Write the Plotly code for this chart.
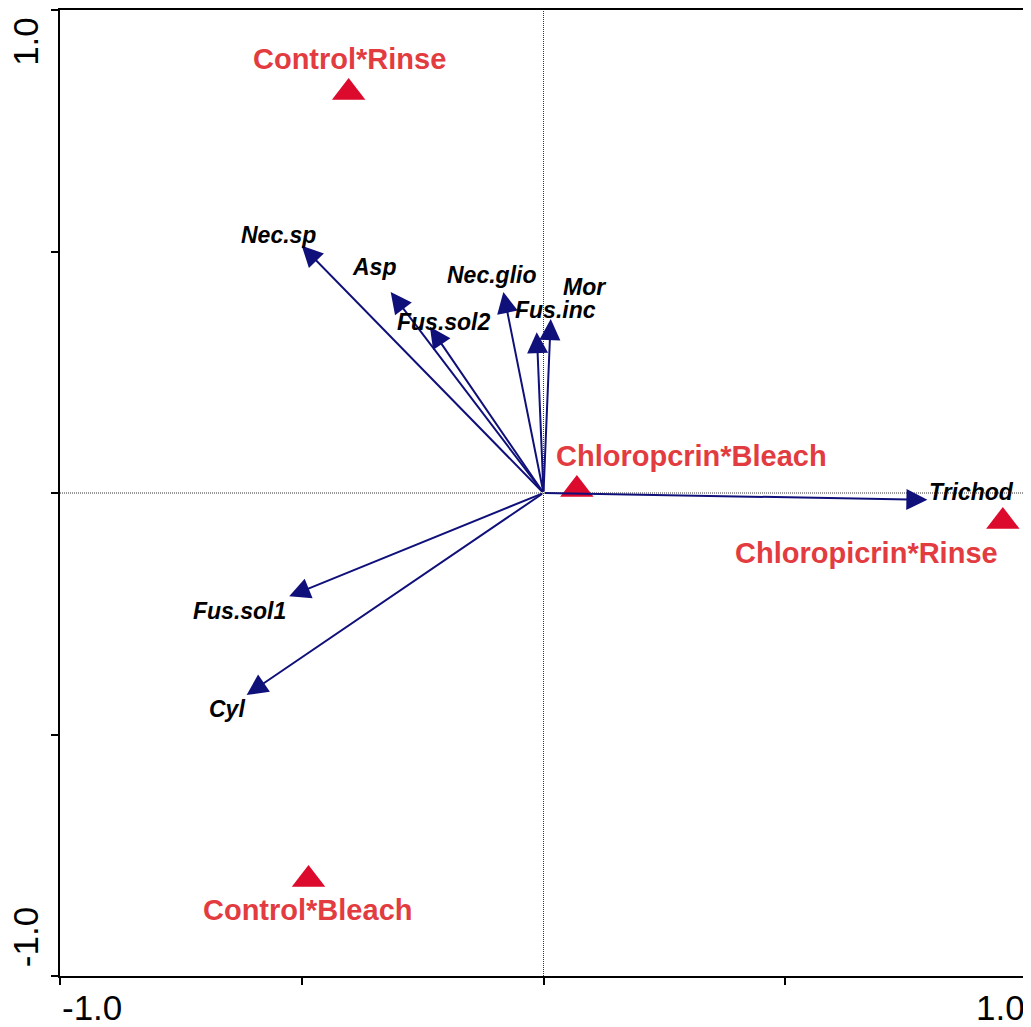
import plotly.graph_objects as go

# Species vectors (arrow tips)
species = ["Nec.sp", "Asp", "Fus.sol2", "Nec.glio", "Fus.inc", "Mor", "Trichod", "Fus.sol1", "Cyl"]
sp_x = [-0.500, -0.316, -0.235, -0.083, -0.014, 0.015, 0.794, -0.526, -0.614]
sp_y = [0.512, 0.416, 0.344, 0.416, 0.333, 0.360, -0.014, -0.214, -0.418]
# species label positions
sp_lx = [-0.549, -0.351, -0.205, -0.108, 0.0238, 0.0838, 0.886, -0.628, -0.654]
sp_ly = [0.534, 0.467, 0.354, 0.452, 0.378, 0.426, 0.003, -0.245, -0.448]

# Treatment (sample) points
treat = ["Control*Rinse", "Chloropcrin*Bleach", "Chloropicrin*Rinse", "Control*Bleach"]
tr_x = [-0.403, 0.069, 0.950, -0.486]
tr_y = [0.829, 0.007, -0.059, -0.800]
tr_lx = [-0.401, 0.306, 0.669, -0.488]
tr_ly = [0.898, 0.077, -0.125, -0.864]

tick_vals = [-1.0, -0.5, 0.0, 0.5, 1.0]

ARROW = "#10107A"
RED_TXT = "#E23B40"
RED_MK = "#DC0A2D"
FONT = "Liberation Sans, Arial, sans-serif"

fig = go.Figure()

fig.add_trace(go.Scatter(
    x=tr_x, y=tr_y, mode="markers",
    marker=dict(symbol="triangle-up", size=29, color=RED_MK, line=dict(width=0)),
    hoverinfo="skip", showlegend=False, cliponaxis=False,
))

ann = []
for name, x, y in zip(species, sp_x, sp_y):
    ann.append(dict(x=x, y=y, ax=0, ay=0, xref="x", yref="y", axref="x", ayref="y",
                    text="", showarrow=True, arrowhead=2, arrowsize=2.1, arrowwidth=2,
                    arrowcolor=ARROW))
for name, x, y in zip(species, sp_lx, sp_ly):
    ann.append(dict(x=x, y=y, xref="x", yref="y", text="<b><i>%s</i></b>" % name,
                    showarrow=False, xanchor="center", yanchor="middle",
                    font=dict(family=FONT, size=23, color="black")))
for name, x, y in zip(treat, tr_lx, tr_ly):
    ann.append(dict(x=x, y=y, xref="x", yref="y", text="<b>%s</b>" % name,
                    showarrow=False, xanchor="center", yanchor="middle",
                    font=dict(family=FONT, size=29, color=RED_TXT)))

# axis end labels
tick_font = dict(family=FONT, size=35, color="black")
ann.append(dict(x=0, y=-0.033, xref="paper", yref="paper", text="-1.0", showarrow=False,
                xanchor="left", yanchor="middle", font=tick_font))
ann.append(dict(x=1, y=-0.033, xref="paper", yref="paper", text="1.0", showarrow=False,
                xanchor="right", yanchor="middle", font=tick_font))
ann.append(dict(x=-0.0352, y=0.968, xref="paper", yref="paper", text="1.0", showarrow=False,
                xanchor="center", yanchor="middle", textangle=-90, font=tick_font))
ann.append(dict(x=-0.0362, y=0.0402, xref="paper", yref="paper", text="-1.0", showarrow=False,
                xanchor="center", yanchor="middle", textangle=-90, font=tick_font))

shapes = [
    dict(type="line", xref="x", yref="y", x0=0, x1=0, y0=-1, y1=1,
         line=dict(color="#333333", width=1, dash="1px,1px"), layer="below"),
    dict(type="line", xref="x", yref="y", x0=-1, x1=1, y0=0, y1=0,
         line=dict(color="#333333", width=1, dash="1px,1px"), layer="below"),
]

axis_common = dict(range=[-1, 1], tickvals=tick_vals, showticklabels=False,
                   ticks="outside", ticklen=7, tickwidth=2, tickcolor="black",
                   showline=True, linewidth=2, linecolor="black", mirror=True,
                   showgrid=False, zeroline=False, fixedrange=True)

fig.update_layout(
    width=1023, height=1019,
    margin=dict(l=52, r=4, t=0, b=51),
    paper_bgcolor="white", plot_bgcolor="white",
    xaxis=axis_common, yaxis=axis_common,
    annotations=ann, shapes=shapes, showlegend=False,
)

fig.write_html("out.html")
